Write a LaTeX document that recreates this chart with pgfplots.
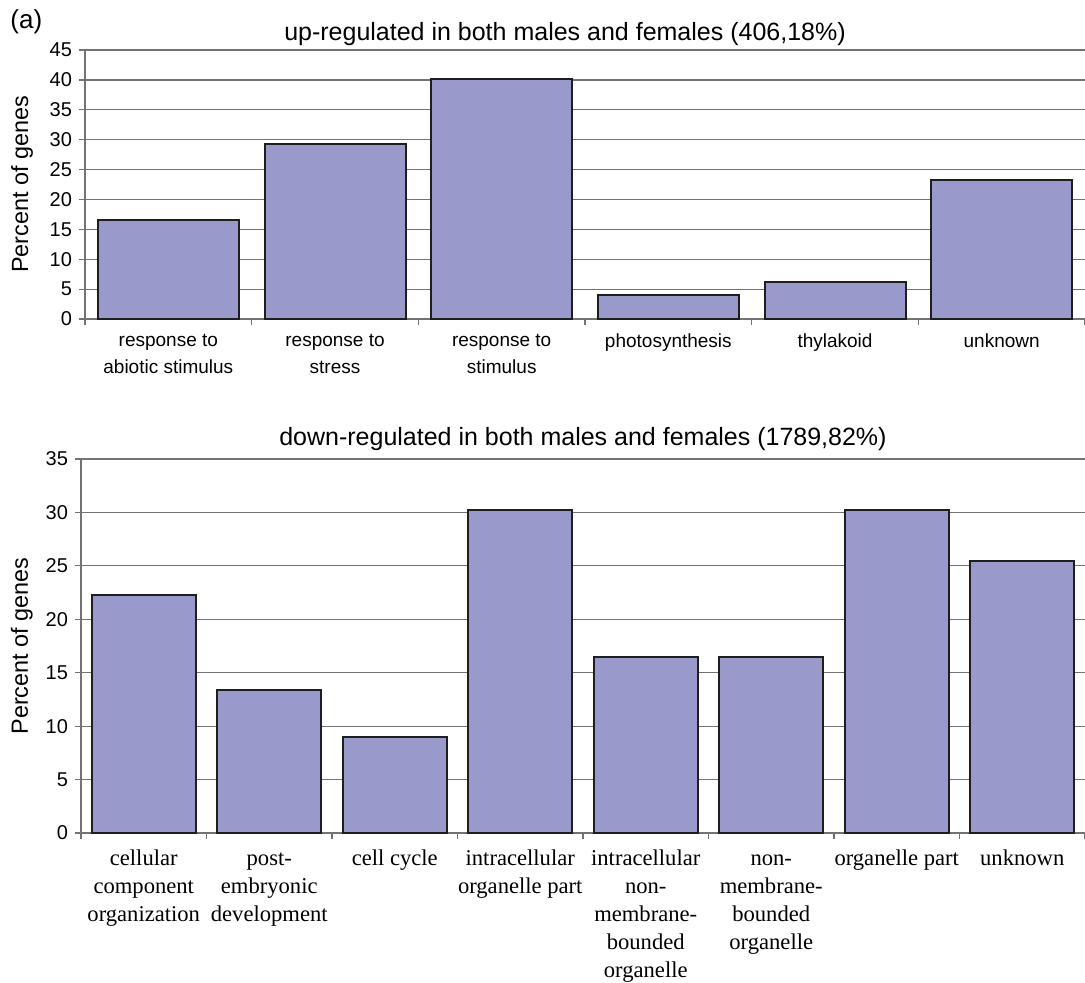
\documentclass[border=0pt]{standalone}
\usepackage{pgfplots}
\pgfplotsset{compat=1.18}
\usepackage{fontspec}
\setmainfont{Liberation Sans}
\newfontfamily\timesfont{Liberation Serif}
\definecolor{barfill}{RGB}{153,153,204}
\definecolor{baredge}{RGB}{30,30,30}
\definecolor{gridgray}{RGB}{115,115,115}
\pgfplotsset{
  mybar/.style={
    scale only axis, ybar, ymin=0,
    enlarge x limits=false,
    axis x line*=bottom, axis y line*=left,
    axis line style={gridgray, line width=0.6pt},
    ymajorgrids, grid style={gridgray, line width=0.6pt},
    tick align=outside, tick pos=left,
    major tick length=3pt, minor tick length=3pt,
    tick style={gridgray, line width=0.6pt},
    major x tick style={draw=none},
    /pgf/number format/assume math mode=true,
    yticklabel style={font=\fontsize{10}{12}\selectfont},
    ylabel={Percent of genes},
    ylabel style={font=\fontsize{11.7}{14}\selectfont, anchor=center},
    title style={font=\fontsize{12.5}{15}\selectfont, anchor=base},
  }
}
\begin{document}
\begin{tikzpicture}
\useasboundingbox (0,0) rectangle (542.5pt,-491pt);
\node[anchor=base west, font=\fontsize{13}{15}\selectfont, inner sep=0pt] at (5pt,-14pt) {(a)};
\begin{axis}[mybar,
  at={(42.5pt,-159.5pt)}, anchor=south west,
  width=500pt, height=134.5pt,
  ymax=45, ytick={0,5,...,45},
  xmin=0.5, xmax=6.5,
  bar width=70.5pt,
  xtick={1,...,6},
  minor xtick={0.5,1.5,...,6.5},
  xticklabels={{response to\\abiotic stimulus},{response to\\stress},{response to\\stimulus},{photosynthesis},{thylakoid},{unknown}},
  xticklabel style={align=center, font=\fontsize{9.5}{13.5}\selectfont, yshift=-1pt},
  ylabel style={at={(axis description cs:-0.063,0.5)}},
  title={up-regulated in both males and females (406,18\%)},
  title style={at={(axis description cs:0.48,1)}, yshift=-1pt},
]
\addplot[fill=barfill, draw=baredge, line width=1pt] coordinates {
  (1,16.6) (2,29.3) (3,40.2) (4,4.0) (5,6.2) (6,23.3)};
\end{axis}
\begin{axis}[mybar,
  at={(40.5pt,-416.5pt)}, anchor=south west,
  width=502pt, height=187pt,
  ymax=35, ytick={0,5,...,35},
  xmin=0.5, xmax=8.5,
  bar width=52pt,
  xtick={1,...,8},
  minor xtick={0.5,1.5,...,8.5},
  xticklabels={{\strut cellular\\component\\organization},{\strut post-\\embryonic\\development},{\strut cell cycle},{\strut intracellular\\organelle part},{\strut intracellular\\non-\\membrane-\\bounded\\organelle},{\strut non-\\membrane-\\bounded\\organelle},{\strut organelle part},{\strut unknown}},
  xticklabel style={align=center, font=\timesfont\fontsize{11.3}{14}\selectfont, yshift=0pt},
  ylabel style={at={(axis description cs:-0.059,0.5)}},
  title={down-regulated in both males and females (1789,82\%)},
  title style={at={(axis description cs:0.5,1)}, yshift=1pt},
]
\addplot[fill=barfill, draw=baredge, line width=1pt] coordinates {
  (1,22.3) (2,13.4) (3,9.0) (4,30.2) (5,16.5) (6,16.5) (7,30.2) (8,25.5)};
\end{axis}
\end{tikzpicture}
\end{document}
